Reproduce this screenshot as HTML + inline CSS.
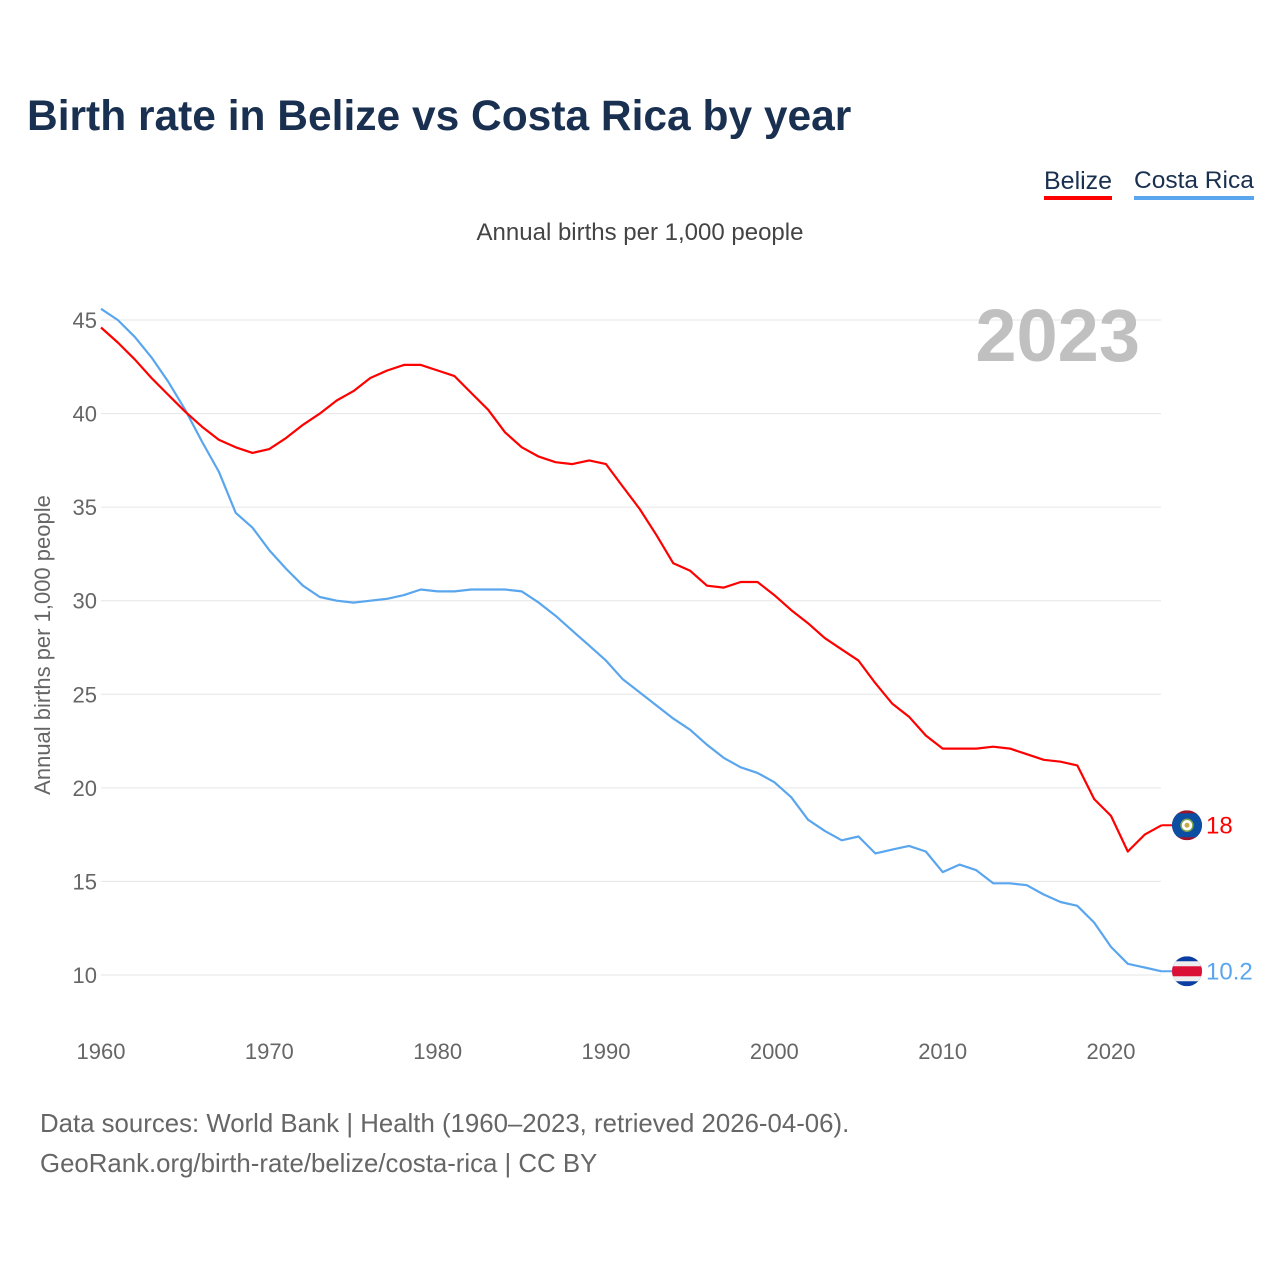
<!DOCTYPE html>
<html><head><meta charset="utf-8"><style>
body{margin:0;background:#fff;font-family:"Liberation Sans",sans-serif;}
#wrap{position:relative;width:1280px;height:1280px;overflow:hidden;}
.t{position:absolute;white-space:nowrap;}
</style></head><body>
<div id="wrap">
<div class="t" style="left:27px;top:93px;font-size:42.5px;font-weight:bold;color:#1a3050;">Birth rate in Belize vs Costa Rica by year</div>
<div class="t" style="left:1044px;top:166px;font-size:25px;color:#1a3050;border-bottom:4px solid #f00;line-height:30px;">Belize</div>
<div class="t" style="left:1134px;top:166px;font-size:24.5px;color:#1a3050;border-bottom:4px solid #5aa6ee;line-height:30px;">Costa Rica</div>
<div class="t" style="left:0;width:1280px;text-align:center;top:219px;font-size:24px;color:#444;">Annual births per 1,000 people</div>
<div class="t" style="left:40px;top:1104px;font-size:25.8px;color:#666;line-height:40px;">Data sources: World Bank | Health (1960–2023, retrieved 2026-04-06).<br>GeoRank.org/birth-rate/belize/costa-rica | CC BY</div>
<svg id="chart" width="1280" height="1280" style="position:absolute;left:0;top:0"></svg>
</div>
<script>
const years=[];for(let y=1960;y<=2023;y++)years.push(y);
const belize=[44.6,43.8,42.9,41.9,41.0,40.1,39.3,38.6,38.2,37.9,38.1,38.7,39.4,40.0,40.7,41.2,41.9,42.3,42.6,42.6,42.3,42.0,41.1,40.2,39.0,38.2,37.7,37.4,37.3,37.5,37.3,36.1,34.9,33.5,32.0,31.6,30.8,30.7,31.0,31.0,30.3,29.5,28.8,28.0,27.4,26.8,25.6,24.5,23.8,22.8,22.1,22.1,22.1,22.2,22.1,21.8,21.5,21.4,21.2,19.4,18.5,16.6,17.5,18.0];
const costaRica=[45.6,45.0,44.1,43.0,41.7,40.2,38.5,36.9,34.7,33.9,32.7,31.7,30.8,30.2,30.0,29.9,30.0,30.1,30.3,30.6,30.5,30.5,30.6,30.6,30.6,30.5,29.9,29.2,28.4,27.6,26.8,25.8,25.1,24.4,23.7,23.1,22.3,21.6,21.1,20.8,20.3,19.5,18.3,17.7,17.2,17.4,16.5,16.7,16.9,16.6,15.5,15.9,15.6,14.9,14.9,14.8,14.3,13.9,13.7,12.8,11.5,10.6,10.4,10.2];
const yTicks=[10,15,20,25,30,35,40,45];
const xTicks=[1960,1970,1980,1990,2000,2010,2020];
const belizeLabel="18", costaLabel="10.2";
const NS="http://www.w3.org/2000/svg";
const svg=document.getElementById('chart');
const x=v=>101+(v-1960)*(1010/60);
const y=v=>975-(v-10)*(655/35);
function mk(t,a,p){const e=document.createElementNS(NS,t);for(const k in a)e.setAttribute(k,a[k]);(p||svg).appendChild(e);return e;}
yTicks.forEach(v=>{
 const l=mk('line',{x1:101,x2:1161,y1:y(v),y2:y(v),stroke:'#e6e6e6','stroke-width':1});
 
 
 const t=mk('text',{x:97,y:y(v)+8,'text-anchor':'end','font-size':22,fill:'#666','font-family':'Liberation Sans'});
 t.textContent=v;
 
 
});
xTicks.forEach(v=>{
 const t=mk('text',{x:x(v),y:1059,'text-anchor':'middle','font-size':22,fill:'#666','font-family':'Liberation Sans'});
 t.textContent=v;
 
 
});
const yt=mk('text',{x:0,y:0,transform:'translate(50,645) rotate(-90)','text-anchor':'middle','font-size':22,fill:'#666','font-family':'Liberation Sans'});
yt.textContent='Annual births per 1,000 people';


const yr=mk('text',{x:1140,y:361,'text-anchor':'end','font-size':74,'font-weight':'bold',fill:'#c0c0c0','font-family':'Liberation Sans'});
yr.textContent='2023';


function line(data,color,name){
 const d=data.map((v,i)=>(i?'L':'M')+x(years[i]).toFixed(1)+','+y(v).toFixed(1)).join('');
 const p=mk('path',{d:d,fill:'none',stroke:color,'stroke-width':2.2,'stroke-linejoin':'round'});
 
 
}
line(costaRica,'#5aa6ee','costa-rica-line');
line(belize,'#f00','belize-line');
const bx=1187, by=y(belize[belize.length-1]), cy=y(costaRica[costaRica.length-1]);
mk('line',{x1:x(2023),x2:bx,y1:by,y2:by,stroke:'#f00','stroke-width':2});
mk('line',{x1:x(2023),x2:bx,y1:cy,y2:cy,stroke:'#5aa6ee','stroke-width':2});
const cb=mk('clipPath',{id:'cb'});mk('circle',{cx:bx,cy:by,r:15},cb);
const g1=mk('g',{'clip-path':'url(#cb)'});


mk('rect',{x:bx-15,y:by-15,width:30,height:30,fill:'#a0142a'},g1);
mk('rect',{x:bx-15,y:by-12,width:30,height:24,fill:'#0b4ea2'},g1);
mk('circle',{cx:bx,cy:by,r:6,fill:'#fff',stroke:'#7aa34a','stroke-width':1.5},g1);
mk('circle',{cx:bx,cy:by,r:2.5,fill:'#c9a84a'},g1);
const cp=mk('clipPath',{id:'cc'});mk('circle',{cx:bx,cy:cy,r:15},cp);
const g2=mk('g',{'clip-path':'url(#cc)'});


mk('rect',{x:bx-15,y:cy-15,width:30,height:30,fill:'#0b3ea2'},g2);
mk('rect',{x:bx-15,y:cy-10,width:30,height:20,fill:'#eee'},g2);
mk('rect',{x:bx-15,y:cy-5,width:30,height:10,fill:'#da1037'},g2);
const l1=mk('text',{x:1206,y:by+8,'font-size':24,fill:'#f00','font-family':'Liberation Sans'});
l1.textContent=belizeLabel;


const l2=mk('text',{x:1206,y:cy+8,'font-size':24,fill:'#5aa6ee','font-family':'Liberation Sans'});
l2.textContent=costaLabel;


</script>
</body></html>
